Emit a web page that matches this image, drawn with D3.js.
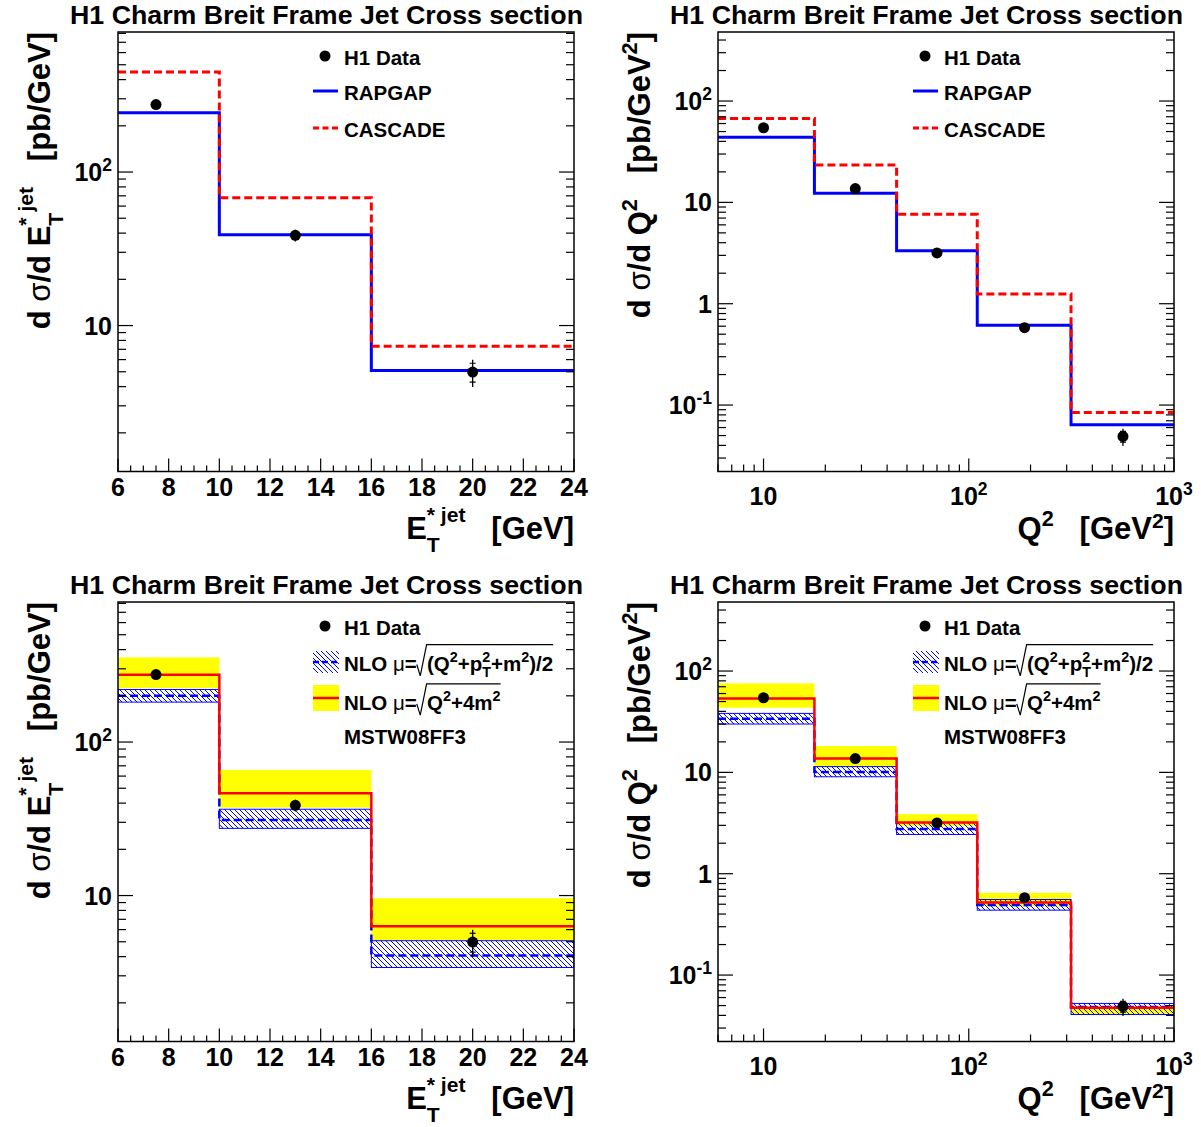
<!DOCTYPE html>
<html><head><meta charset="utf-8">
<script src="https://cdn.jsdelivr.net/npm/d3@7"></script>
<style>body{margin:0;background:#fff} svg{display:block} text{white-space:pre}</style>
</head><body>
<svg id="c" width="1201" height="1127"></svg>
<script>
// ---------- DATA ----------
const etBins = [6, 10, 16, 24];
const etX = [7.5, 13, 20];
const etData = [275, 38.7, 4.98];
const etStat = [8, 1.6, 0.7];
const etTot = [16, 3.4, 1.0];
const etRapgap = [243, 39.1, 5.1];
const etCascade = [449, 68.1, 7.33];
const etNloA = [200, 31.0, 4.07];     // mu = sqrt((Q2+pT2+m2)/2)
const etNloALo = [182, 27.4, 3.40];
const etNloAHi = [220, 36.5, 5.08];
const etNloB = [274, 46.3, 6.32];     // mu = sqrt(Q2+4m2)
const etNloBLo = [224, 37.4, 5.13];
const etNloBHi = [356, 65.8, 9.6];

const q2Bins = [6, 17.7, 44.5, 110, 315, 1000];
const q2X = [10, 28, 70, 187, 564];
const q2Data = [54.5, 13.7, 3.17, 0.58, 0.049];
const q2Stat = [2.5, 0.7, 0.15, 0.03, 0.006];
const q2Tot = [5, 1.3, 0.3, 0.06, 0.0095];
const q2Rapgap = [43.9, 12.3, 3.33, 0.613, 0.0638];
const q2Cascade = [67.4, 23.4, 7.64, 1.246, 0.0843];
const q2NloA = [33.8, 10.1, 2.76, 0.49, 0.0485];
const q2NloALo = [30.0, 9.05, 2.44, 0.437, 0.0408];
const q2NloAHi = [38.2, 11.4, 3.2, 0.557, 0.0525];
const q2NloB = [53.7, 13.7, 3.20, 0.52, 0.0475];
const q2NloBLo = [43.5, 11.4, 2.93, 0.475, 0.041];
const q2NloBHi = [75.6, 18.2, 3.87, 0.647, 0.049];

const etXTicks = [6, 8, 10, 12, 14, 16, 18, 20, 22, 24];
const titleText = "H1 Charm Breit Frame Jet Cross section";
const legendMC = ["H1 Data", "RAPGAP", "CASCADE"];

// ---------- SETUP ----------
const FONT = "'Liberation Sans', Arial, Helvetica, sans-serif";
const svg = d3.select('#c');
svg.append('rect').attr('width', 1201).attr('height', 1127).attr('fill', '#fff');
const meas = svg.append('text').attr('x', -1000).attr('y', -1000).style('visibility', 'hidden')
  .style('white-space', 'pre').attr('xml:space', 'preserve');
const defs = svg.append('defs');
const pat = defs.append('pattern').attr('id', 'hatch').attr('patternUnits', 'userSpaceOnUse')
  .attr('width', 5).attr('height', 5);
pat.append('path').attr('d', 'M-1,-1 L6,6 M-1,4 L1,6 M4,-1 L6,1')
  .attr('stroke', '#0000ff').attr('stroke-width', 1).attr('fill', 'none');

function measure(str, size, weight, family) {
  meas.attr('font-size', size).attr('font-weight', weight).attr('font-family', family).text(str);
  return meas.node().getComputedTextLength();
}

// rich text in ONE text element: pieces {t, s, dy, w, stack, rad:'start'|'end'}
function rich(g, x, y, pieces, base, anchor) {
  let cx = 0, prevStart = 0, prevEnd = 0;
  const items = [];
  let radS = null, radE = null;
  for (const p of pieces) {
    if (p.rad === 'start') { radS = cx; cx += 0.5 * base; continue; }
    if (p.rad === 'end') { radE = cx; continue; }
    const size = base * (p.s || 1);
    const w = measure(p.t, size, p.w || 'bold', p.f || FONT);
    let px;
    if (p.stack) { px = prevStart; cx = Math.max(prevEnd, px + w); prevEnd = cx; }
    else { px = cx; prevStart = px; cx = px + w; prevEnd = cx; }
    items.push({ p, px, size });
  }
  const off = anchor === 'end' ? -cx : anchor === 'middle' ? -cx / 2 : 0;
  const txt = g.append('text').attr('font-family', FONT).attr('font-weight', 'bold')
    .attr('font-size', base).attr('fill', '#000').attr('xml:space', 'preserve').style('white-space', 'pre');
  for (const it of items) {
    txt.append('tspan').attr('x', x + it.px + off).attr('y', y + (it.p.dy || 0) * base)
      .attr('font-family', it.p.f || FONT).attr('font-weight', it.p.w || 'bold')
      .attr('font-size', it.size).text(it.p.t);
  }
  if (radS !== null && radE !== null) {
    const rx = x + radS + off, re = x + radE + off;
    g.append('path').attr('d',
      `M${rx},${y - 0.3 * base} L${rx + 0.17 * base},${y + 0.25 * base} L${rx + 0.48 * base},${y - 1.27 * base} L${re},${y - 1.27 * base}`)
      .attr('fill', 'none').attr('stroke', '#000').attr('stroke-width', 1.2);
  }
  return cx;
}

const SUP = (t) => ({ t, s: 0.7, dy: -0.42 });
const SUB = (t, stack) => ({ t, s: 0.7, dy: 0.3, stack: !!stack });
const HSUP = (t) => ({ t, s: 0.68, dy: -0.56 });
const LSUB = (t) => ({ t, s: 0.68, dy: 0.42, stack: true });

function logTicks(dom) {
  const out = [];
  const d0 = Math.floor(Math.log10(dom[0])) - 1, d1 = Math.ceil(Math.log10(dom[1]));
  for (let d = d0; d <= d1; d++) for (let k = 1; k <= 9; k++) {
    const v = k * Math.pow(10, d);
    if (v >= dom[0] * 0.999 && v <= dom[1] * 1.001) out.push({ v, major: k === 1, exp: d });
  }
  return out;
}
function expLabel(d) {
  if (d === 0) return [{ t: '1' }];
  if (d === 1) return [{ t: '10' }];
  return [{ t: '10' }, { t: String(d), s: 0.7, dy: -0.42 }];
}

function panel(o) {
  const x0 = o.ox + 118, x1 = o.ox + 574, y0 = o.oy + 32, y1 = o.oy + 471.5;
  const g = svg.append('g');
  const xs = (o.xLog ? d3.scaleLog() : d3.scaleLinear()).domain(o.xDomain).range([x0, x1]);
  const ys = d3.scaleLog().domain(o.yDomain).range([y1, y0]);
  const clipId = 'clip' + o.ox + '_' + o.oy;
  defs.append('clipPath').attr('id', clipId).append('rect')
    .attr('x', x0).attr('y', y0).attr('width', x1 - x0).attr('height', y1 - y0);
  const pg = g.append('g').attr('clip-path', `url(#${clipId})`);
  const bins = o.bins;
  const stepLine = (vals) => {
    const pts = [];
    vals.forEach((v, i) => { pts.push([xs(bins[i]), ys(v)]); pts.push([xs(bins[i + 1]), ys(v)]); });
    return d3.line()(pts);
  };

  if (o.mode === 'nlo') {
    o.bHi.forEach((hi, i) => {
      pg.append('rect').attr('x', xs(bins[i])).attr('width', xs(bins[i + 1]) - xs(bins[i]))
        .attr('y', ys(hi)).attr('height', ys(o.bLo[i]) - ys(hi)).attr('fill', '#ffff00');
    });
    o.aHi.forEach((hi, i) => {
      pg.append('rect').attr('x', xs(bins[i])).attr('width', xs(bins[i + 1]) - xs(bins[i]))
        .attr('y', ys(hi)).attr('height', ys(o.aLo[i]) - ys(hi)).attr('fill', 'url(#hatch)')
        .attr('stroke', '#0000ff').attr('stroke-width', 1);
    });
    pg.append('path').attr('d', stepLine(o.a)).attr('fill', 'none').attr('stroke', '#0000ff')
      .attr('stroke-width', 2.5).attr('stroke-dasharray', '8,4');
    pg.append('path').attr('d', stepLine(o.b)).attr('fill', 'none').attr('stroke', '#ff0000')
      .attr('stroke-width', 2.5);
  } else {
    pg.append('path').attr('d', stepLine(o.rap)).attr('fill', 'none').attr('stroke', '#0000ff')
      .attr('stroke-width', 3);
    pg.append('path').attr('d', stepLine(o.cas)).attr('fill', 'none').attr('stroke', '#ff0000')
      .attr('stroke-width', 3).attr('stroke-dasharray', '8,4');
  }
  o.data.forEach((v, i) => {
    const cx = xs(o.x[i]);
    pg.append('line').attr('x1', cx).attr('x2', cx).attr('y1', ys(v + o.tot[i])).attr('y2', ys(v - o.tot[i]))
      .attr('stroke', '#000').attr('stroke-width', 1.3);
    [v + o.stat[i], v - o.stat[i]].forEach(e => pg.append('line').attr('x1', cx - 3).attr('x2', cx + 3)
      .attr('y1', ys(e)).attr('y2', ys(e)).attr('stroke', '#000').attr('stroke-width', 1.2));
    pg.append('circle').attr('cx', cx).attr('cy', ys(v)).attr('r', 5.5).attr('fill', '#000');
  });

  g.append('rect').attr('x', x0).attr('y', y0).attr('width', x1 - x0).attr('height', y1 - y0)
    .attr('fill', 'none').attr('stroke', '#000').attr('stroke-width', 1.5);
  const tk = g.append('g').attr('stroke', '#000').attr('stroke-width', 1.2);
  logTicks(o.yDomain).forEach(t => {
    const yy = ys(t.v), len = t.major ? 15 : 8;
    tk.append('line').attr('x1', x0).attr('x2', x0 + len).attr('y1', yy).attr('y2', yy);
    tk.append('line').attr('x1', x1).attr('x2', x1 - len).attr('y1', yy).attr('y2', yy);
    if (t.major) rich(g, x0 - 6, yy + 9, expLabel(t.exp), 25, 'end');
  });
  if (o.xLog) {
    logTicks(o.xDomain).forEach(t => {
      const xx = xs(t.v), len = t.major ? 13 : 7;
      tk.append('line').attr('x1', xx).attr('x2', xx).attr('y1', y1).attr('y2', y1 - len);
      if (t.major) rich(g, xx, y1 + 33.5, expLabel(t.exp), 25, 'middle');
    });
  } else {
    d3.range(o.xDomain[0], o.xDomain[1] + 0.01, 0.5).forEach(v => {
      const xx = xs(v), major = etXTicks.includes(v), len = major ? 13 : 6;
      tk.append('line').attr('x1', xx).attr('x2', xx).attr('y1', y1).attr('y2', y1 - len);
    });
    etXTicks.forEach(v => rich(g, xs(v), y1 + 24, [{ t: String(v) }], 25, 'middle'));
  }
  g.append('text').attr('x', o.ox + 70).attr('y', o.oy + 23.5).attr('font-family', FONT)
    .attr('font-weight', 'bold').attr('font-size', 26).attr('textLength', 513)
    .attr('lengthAdjust', 'spacingAndGlyphs').text(titleText);
  rich(g, x1, o.oy + 539, o.xTitle, 31, 'end');
  const yt = g.append('g').attr('transform', `translate(${o.ox + 50},${y0}) rotate(-90)`);
  rich(yt, 0, 0, o.yTitle, 31, 'end');

  const lg = g.append('g');
  const lx = o.ox + 344;
  lg.append('circle').attr('cx', o.ox + 325).attr('cy', o.oy + 56).attr('r', 5.5).attr('fill', '#000');
  rich(lg, lx, o.oy + 65, [{ t: legendMC[0] }], 20.5, 'start');
  if (o.mode === 'mc') {
    lg.append('line').attr('x1', o.ox + 313).attr('x2', o.ox + 338).attr('y1', o.oy + 91).attr('y2', o.oy + 91)
      .attr('stroke', '#0000ff').attr('stroke-width', 3);
    rich(lg, lx, o.oy + 100, [{ t: legendMC[1] }], 20.5, 'start');
    lg.append('line').attr('x1', o.ox + 313).attr('x2', o.ox + 338).attr('y1', o.oy + 128).attr('y2', o.oy + 128)
      .attr('stroke', '#ff0000').attr('stroke-width', 3).attr('stroke-dasharray', '6,3.5');
    rich(lg, lx, o.oy + 136.5, [{ t: legendMC[2] }], 20.5, 'start');
  } else {
    lg.append('rect').attr('x', o.ox + 313).attr('y', o.oy + 81).attr('width', 26).attr('height', 22)
      .attr('fill', 'url(#hatch)');
    lg.append('line').attr('x1', o.ox + 313).attr('x2', o.ox + 339).attr('y1', o.oy + 92).attr('y2', o.oy + 92)
      .attr('stroke', '#0000ff').attr('stroke-width', 2.5).attr('stroke-dasharray', '6,3');
    rich(lg, lx, o.oy + 100.7, [
      { t: 'NLO ' }, { t: 'μ', w: 'normal' }, { t: '=' }, { rad: 'start' },
      { t: '(Q' }, SUP('2'), { t: '+p' }, SUP('2'), SUB('T', true), { t: '+m' }, SUP('2'), { t: ')/2' },
      { rad: 'end' }], 20.5, 'start');
    lg.append('rect').attr('x', o.ox + 313).attr('y', o.oy + 115).attr('width', 26).attr('height', 26)
      .attr('fill', '#ffff00');
    lg.append('line').attr('x1', o.ox + 313).attr('x2', o.ox + 339).attr('y1', o.oy + 128).attr('y2', o.oy + 128)
      .attr('stroke', '#ff0000').attr('stroke-width', 2.5);
    rich(lg, lx, o.oy + 140, [
      { t: 'NLO ' }, { t: 'μ', w: 'normal' }, { t: '=' }, { rad: 'start' },
      { t: 'Q' }, SUP('2'), { t: '+4m' }, SUP('2'), { rad: 'end' }], 20.5, 'start');
    rich(lg, lx, o.oy + 174, [{ t: 'MSTW08FF3' }], 20.5, 'start');
  }
}

const TSUP = (t) => ({ t, s: 0.68, dy: -0.36 });
const etXTitle = [{ t: 'E' }, HSUP('* jet'), LSUB('T'), { t: '   [GeV]' }];
const etYTitle = [{ t: 'd ' }, { t: 'σ', w: 'normal' }, { t: '/d E' }, HSUP('* jet'), LSUB('T'), { t: '   [pb/GeV]' }];
const q2XTitle = [{ t: 'Q' }, SUP('2'), { t: '   [GeV' }, TSUP('2'), { t: ']' }];
const q2YTitle = [{ t: 'd ' }, { t: 'σ', w: 'normal' }, { t: '/d Q' }, SUP('2'), { t: '   [pb/GeV' }, SUP('2'), { t: ']' }];

const etYDom = [1.12, 817], q2YDom = [0.0221, 480];

panel({ ox: 0, oy: 0, mode: 'mc', xLog: false, xDomain: [6, 24], yDomain: etYDom, bins: etBins, x: etX,
  data: etData, stat: etStat, tot: etTot, rap: etRapgap, cas: etCascade, xTitle: etXTitle, yTitle: etYTitle });
panel({ ox: 600, oy: 0, mode: 'mc', xLog: true, xDomain: [6, 1000], yDomain: q2YDom, bins: q2Bins, x: q2X,
  data: q2Data, stat: q2Stat, tot: q2Tot, rap: q2Rapgap, cas: q2Cascade, xTitle: q2XTitle, yTitle: q2YTitle });
panel({ ox: 0, oy: 570, mode: 'nlo', xLog: false, xDomain: [6, 24], yDomain: etYDom, bins: etBins, x: etX,
  data: etData, stat: etStat, tot: etTot, a: etNloA, aLo: etNloALo, aHi: etNloAHi, b: etNloB, bLo: etNloBLo, bHi: etNloBHi,
  xTitle: etXTitle, yTitle: etYTitle });
panel({ ox: 600, oy: 570, mode: 'nlo', xLog: true, xDomain: [6, 1000], yDomain: q2YDom, bins: q2Bins, x: q2X,
  data: q2Data, stat: q2Stat, tot: q2Tot, a: q2NloA, aLo: q2NloALo, aHi: q2NloAHi, b: q2NloB, bLo: q2NloBLo, bHi: q2NloBHi,
  xTitle: q2XTitle, yTitle: q2YTitle });
meas.remove();
</script>
</body></html>
